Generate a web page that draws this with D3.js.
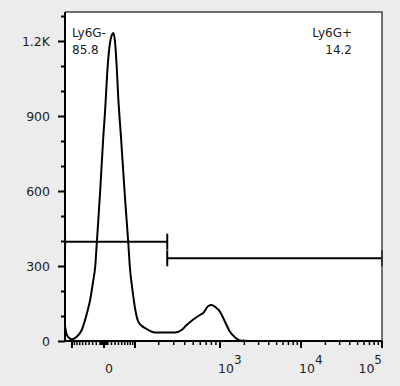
<!DOCTYPE html>
<html>
<head>
<meta charset="utf-8">
<script src="https://cdn.jsdelivr.net/npm/d3@7"></script>
<style>
  html, body { margin: 0; padding: 0; background: #ececec; }
  svg { display: block; font-family: "DejaVu Sans", sans-serif; }
</style>
</head>
<body>
<svg id="chart" width="400" height="386"></svg>
<script>
// histogram trace: fluorescence value / event count
const histValue = [-133, -124, -101, -81, -63, -47, -37, -28, -23, -19, -10, -2, 3, 10, 16, 21, 25, 30, 35, 39, 48,
  61, 73, 79, 86, 93, 100, 110, 124, 142, 180, 309, 369, 421, 500, 595, 648, 738, 806, 878, 1000, 1152, 1328, 1531,
  1765, 2344, 100000];
const histCount = [60, 24, 7, 17, 44, 108, 164, 244, 296, 384, 596, 812, 924, 1104, 1192, 1224, 1232, 1196, 1092, 984, 812,
  572, 388, 292, 228, 176, 132, 80, 60, 48, 34, 34, 44, 64, 86, 104, 112, 140, 144, 137, 117, 77, 37, 15,
  2, 0, 0];

// gates
const gateNames = ["Ly6G-", "Ly6G+"];
const gatePercent = ["85.8", "14.2"];
const gateLow = [-133, 252];
const gateHigh = [252, 100000];
const gateLevel = [397, 331];

// axes
const yMajorTicks = [0, 300, 600, 900, 1200];
const yTickLabels = ["0", "300", "600", "900", "1.2K"];
const yMinorTicks = [100, 200, 400, 500, 700, 800, 1000, 1100, 1300];
const xMajorTicks = [-100, 0, 100, 1000, 10000, 100000];
const xLabelValues = [0, 1000, 10000, 100000];
const xLabelExp = ["", "3", "4", "5"];

const svg = d3.select("#chart");

//Layout of the plot box
const box = { left: 65, right: 382, top: 12, bottom: 341 };

//Biexponential-like x scale: asinh transform, pinned at the decade ticks
const tx = (v) => Math.asinh(v / 74);
const xBreakPx = [72, 104, 135, 220, 301, 382];
const xLin = d3.scaleLinear().domain(xMajorTicks.map(tx)).range(xBreakPx);
const x = (v) => xLin(tx(v));

const y = d3.scaleLinear().domain([0, 1316]).range([box.bottom, box.top]);

//Minor ticks of the x axis: 1..9, 10..90 on both sides, then each decade
const xMinorTicks = [];
for (let k = 1; k <= 9; k++) {
  xMinorTicks.push(k, -k, k * 10, -k * 10);
  if (k > 1) xMinorTicks.push(k * 100, k * 1000, k * 10000);
}

//Plot background
svg.append("rect")
  .attr("x", box.left).attr("y", box.top)
  .attr("width", box.right - box.left).attr("height", box.bottom - box.top)
  .attr("fill", "#fff");

svg.append("clipPath").attr("id", "clip")
  .append("rect")
  .attr("x", box.left).attr("y", box.top - 2)
  .attr("width", box.right - box.left).attr("height", box.bottom - box.top + 2);

//Histogram line
const line = d3.line()
  .x((d, i) => x(histValue[i]))
  .y((d) => y(d))
  .curve(d3.curveMonotoneX);

svg.append("path")
  .attr("clip-path", "url(#clip)")
  .attr("d", line(histCount))
  .attr("fill", "none")
  .attr("stroke", "#000")
  .attr("stroke-width", 2)
  .attr("stroke-linejoin", "round");

//Gates with end caps
const gates = svg.append("g").attr("stroke", "#000").attr("stroke-width", 2);
gateNames.forEach((name, i) => {
  const x0 = Math.max(x(gateLow[i]), box.left);
  const x1 = x(gateHigh[i]);
  const gy = y(gateLevel[i]);
  gates.append("line").attr("x1", x0).attr("x2", x1).attr("y1", gy).attr("y2", gy);
  [x0, x1].forEach((cx) => {
    gates.append("line").attr("x1", cx).attr("x2", cx).attr("y1", gy - 8).attr("y2", gy + 8);
  });
});

//Gate labels
const labels = svg.append("g").attr("font-size", 12).attr("fill", "#222");
labels.append("text").attr("x", 72).attr("y", 37).text(gateNames[0]);
labels.append("text").attr("x", 72).attr("y", 54).text(gatePercent[0]);
labels.append("text").attr("x", 352).attr("y", 37).attr("text-anchor", "end").text(gateNames[1]);
labels.append("text").attr("x", 352).attr("y", 54).attr("text-anchor", "end").text(gatePercent[1]);

//Frame: thin top/right, heavy axes
svg.append("path")
  .attr("d", `M${box.left},${box.top}H${box.right}V${box.bottom}`)
  .attr("fill", "none").attr("stroke", "#444").attr("stroke-width", 1.5);

//Y axis
const yAxis = svg.append("g").attr("transform", `translate(${box.left},0)`);
yAxis.call(d3.axisLeft(y).tickValues(yMajorTicks).tickSize(7).tickPadding(8)
  .tickFormat((d, i) => yTickLabels[i]));
yAxis.append("g").call(d3.axisLeft(y).tickValues(yMinorTicks).tickSize(4).tickFormat(""));
yAxis.selectAll(".domain").remove();
yAxis.selectAll("line").attr("stroke", "#000").attr("stroke-width", 2);
yAxis.selectAll("text").attr("font-size", 12.5).attr("font-family", "DejaVu Sans").attr("fill", "#222");

//X axis ticks
const xAxis = svg.append("g").attr("stroke", "#000").attr("stroke-width", 1.5);
xAxis.selectAll(".minor").data(xMinorTicks).join("line")
  .attr("class", "minor")
  .attr("x1", (d) => x(d)).attr("x2", (d) => x(d))
  .attr("y1", box.bottom).attr("y2", box.bottom + 4);
xAxis.selectAll(".major").data(xMajorTicks).join("line")
  .attr("class", "major")
  .attr("x1", (d) => x(d)).attr("x2", (d) => x(d))
  .attr("y1", box.bottom).attr("y2", box.bottom + 7)
  .attr("stroke-width", 2);

//Axis lines
svg.append("path")
  .attr("d", `M${box.left},${box.top}V${box.bottom}H${box.right}`)
  .attr("fill", "none").attr("stroke", "#000").attr("stroke-width", 2);

//X tick labels with superscript exponents
const xText = svg.append("g").attr("font-size", 12.5).attr("fill", "#222");
xLabelValues.forEach((v, i) => {
  const last = i === xLabelValues.length - 1;
  const t = xText.append("text")
    .attr("x", x(v) + (i === 0 ? 1 : last ? 0 : -2))
    .attr("y", 373)
    .attr("text-anchor", last ? "end" : "start");
  if (xLabelExp[i]) {
    t.append("tspan").text("10");
    t.append("tspan").attr("dy", -9).attr("font-size", 12).text(xLabelExp[i]);
  } else {
    t.text("0");
  }
});
</script>
</body>
</html>
